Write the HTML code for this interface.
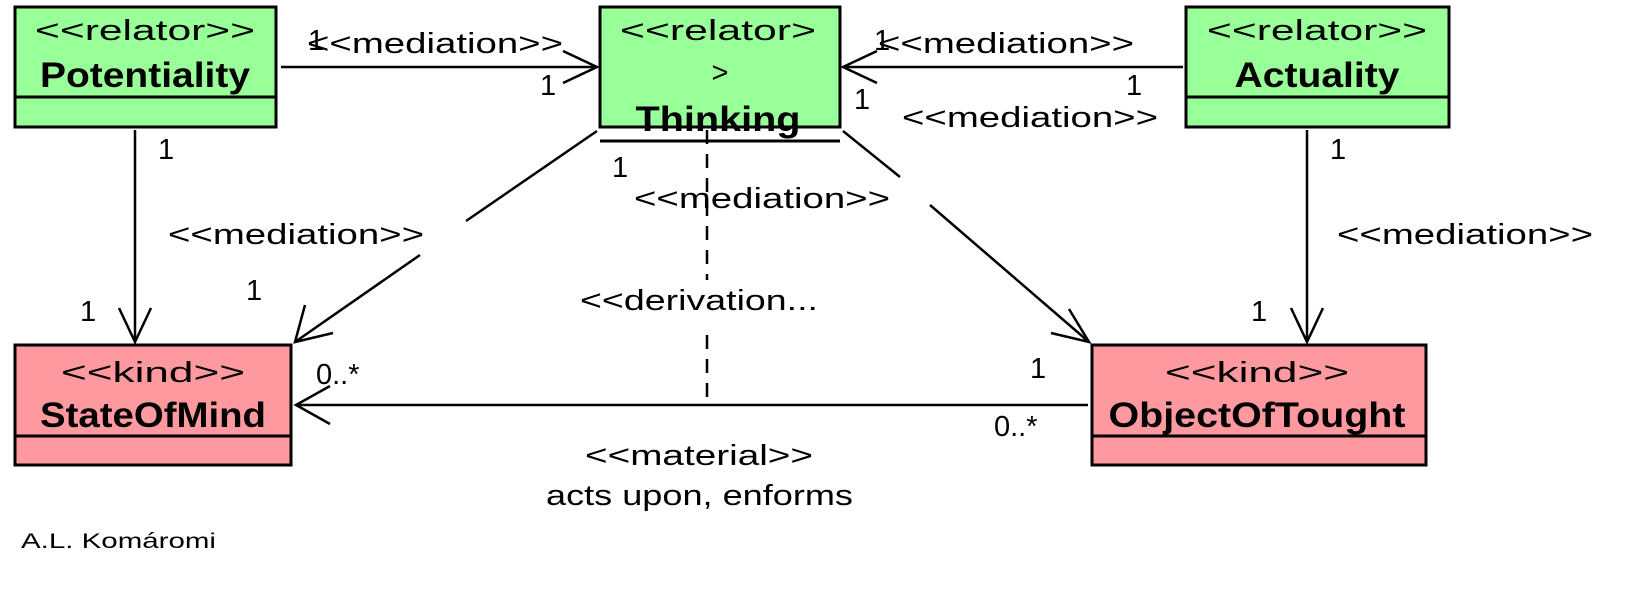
<!DOCTYPE html>
<html><head><meta charset="utf-8"><style>
html,body{margin:0;padding:0;background:#fff;}
svg{display:block;}
text{font-family:"Liberation Sans",sans-serif;fill:#000;}
.l{font-size:29px;}
.b{font-size:35px;font-weight:bold;}
</style></head><body>
<svg width="1647" height="615" viewBox="0 0 1647 615" xmlns="http://www.w3.org/2000/svg">
<g stroke="#000" stroke-width="3">
<rect x="15" y="7" width="261" height="120" fill="#99ff99"/>
<line x1="15" y1="97" x2="276" y2="97"/>
<rect x="600" y="7" width="240" height="120" fill="#99ff99"/>
<rect x="1186" y="7" width="263" height="120" fill="#99ff99"/>
<line x1="1186" y1="97" x2="1449" y2="97"/>
<rect x="15" y="345" width="276" height="120" fill="#ff99a0"/>
<line x1="15" y1="436" x2="291" y2="436"/>
<rect x="1092" y="345" width="334" height="120" fill="#ff99a0"/>
<line x1="1092" y1="436" x2="1426" y2="436"/>
<line x1="600" y1="141" x2="840" y2="141"/>
</g>
<g stroke="#000" stroke-width="2.5" fill="none">
<line x1="281" y1="67" x2="597" y2="67"/>
<polyline points="563,51 597,67 563,83"/>
<line x1="1183" y1="67" x2="843" y2="67"/>
<polyline points="877,51 843,67 877,83"/>
<line x1="135" y1="130" x2="135" y2="342"/>
<polyline points="119,308 135,342 151,308"/>
<line x1="1307" y1="130" x2="1307" y2="342"/>
<polyline points="1291,308 1307,342 1323,308"/>
<line x1="597" y1="131" x2="466" y2="221"/>
<line x1="420" y1="255" x2="295" y2="342"/>
<polyline points="305,305 295,342 333,333"/>
<line x1="843" y1="131" x2="900" y2="177"/>
<line x1="930" y1="205" x2="1089" y2="342"/>
<polyline points="1069,309 1089,342 1051,333"/>
<line x1="1088" y1="405" x2="296" y2="405"/>
<polyline points="330,386 296,405 330,424"/>
<line x1="707" y1="130" x2="707" y2="280" stroke-dasharray="14,10"/>
<line x1="707" y1="335" x2="707" y2="405" stroke-dasharray="14,10"/>
</g>
<text class="l" x="145" y="40" text-anchor="middle" textLength="220" lengthAdjust="spacingAndGlyphs">&lt;&lt;relator&gt;&gt;</text>
<text class="b" x="145" y="87" text-anchor="middle" textLength="210" lengthAdjust="spacingAndGlyphs">Potentiality</text>
<text class="l" x="718" y="40" text-anchor="middle" textLength="196" lengthAdjust="spacingAndGlyphs">&lt;&lt;relator&gt;</text>
<text class="l" x="720" y="82" text-anchor="middle">&gt;</text>
<text class="b" x="718" y="131" text-anchor="middle" textLength="165" lengthAdjust="spacingAndGlyphs">Thinking</text>
<text class="l" x="1317" y="40" text-anchor="middle" textLength="220" lengthAdjust="spacingAndGlyphs">&lt;&lt;relator&gt;&gt;</text>
<text class="b" x="1317" y="87" text-anchor="middle" textLength="165" lengthAdjust="spacingAndGlyphs">Actuality</text>
<text class="l" x="153" y="382" text-anchor="middle" textLength="184" lengthAdjust="spacingAndGlyphs">&lt;&lt;kind&gt;&gt;</text>
<text class="b" x="153" y="427" text-anchor="middle" textLength="226" lengthAdjust="spacingAndGlyphs">StateOfMind</text>
<text class="l" x="1257" y="382" text-anchor="middle" textLength="184" lengthAdjust="spacingAndGlyphs">&lt;&lt;kind&gt;&gt;</text>
<text class="b" x="1257" y="427" text-anchor="middle" textLength="297" lengthAdjust="spacingAndGlyphs">ObjectOfTought</text>
<text class="l" x="307" y="53" textLength="256" lengthAdjust="spacingAndGlyphs">&lt;&lt;mediation&gt;&gt;</text>
<text class="l" x="308" y="50">1</text>
<text class="l" x="540" y="95">1</text>
<text class="l" x="874" y="50">1</text>
<text class="l" x="878" y="53" textLength="256" lengthAdjust="spacingAndGlyphs">&lt;&lt;mediation&gt;&gt;</text>
<text class="l" x="1126" y="95">1</text>
<text class="l" x="854" y="109">1</text>
<text class="l" x="902" y="127" textLength="256" lengthAdjust="spacingAndGlyphs">&lt;&lt;mediation&gt;&gt;</text>
<text class="l" x="158" y="159">1</text>
<text class="l" x="1330" y="159">1</text>
<text class="l" x="612" y="177">1</text>
<text class="l" x="634" y="208" textLength="256" lengthAdjust="spacingAndGlyphs">&lt;&lt;mediation&gt;&gt;</text>
<text class="l" x="168" y="244" textLength="256" lengthAdjust="spacingAndGlyphs">&lt;&lt;mediation&gt;&gt;</text>
<text class="l" x="1337" y="244" textLength="256" lengthAdjust="spacingAndGlyphs">&lt;&lt;mediation&gt;&gt;</text>
<text class="l" x="246" y="300">1</text>
<text class="l" x="80" y="321">1</text>
<text class="l" x="1251" y="321">1</text>
<text class="l" x="580" y="310" textLength="238" lengthAdjust="spacingAndGlyphs">&lt;&lt;derivation...</text>
<text class="l" x="316" y="384">0..*</text>
<text class="l" x="1030" y="378">1</text>
<text class="l" x="994" y="436">0..*</text>
<text class="l" x="585" y="465" textLength="228" lengthAdjust="spacingAndGlyphs">&lt;&lt;material&gt;&gt;</text>
<text class="l" x="546" y="505" textLength="307" lengthAdjust="spacingAndGlyphs">acts upon, enforms</text>
<text x="21" y="548" font-size="21" textLength="195" lengthAdjust="spacingAndGlyphs">A.L. Komáromi</text>
</svg>
</body></html>
